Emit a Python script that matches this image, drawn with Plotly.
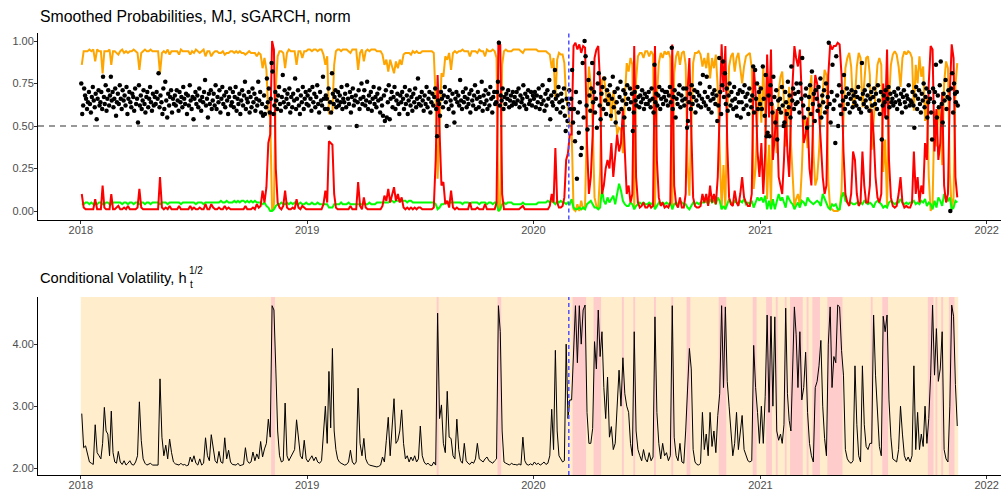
import pandas as pd
import plotly.graph_objects as go

# ---------------------------------------------------------------------------
# Smoothed regime probabilities and conditional volatility, MJ, Jan 2018 - Nov 2021.
# Every row below is one calendar month; values inside a row are evenly spaced
# over that month (Nov 2021 runs to the 15th only).
# ---------------------------------------------------------------------------
months = pd.period_range("2018-01", "2021-11", freq="M")
series_end = pd.Timestamp("2021-11-16")
event_date = "2020-02-27"

# regime 1 (orange)
p_regime1 = [
    [0.86,0.94,0.94,0.94,0.95,0.94,0.95,0.88,0.95,0.94],
    [0.94,0.81,0.94,0.94,0.94,0.95,0.86,0.94,0.94,0.93],
    [0.92,0.94,0.95,0.93,0.94,0.93,0.94,0.94,0.95,0.94],
    [0.93,0.83,0.93,0.94,0.95,0.94,0.94,0.95,0.94,0.94],
    [0.94,0.94,0.81,0.93,0.94,0.93,0.95,0.92,0.94,0.94],
    [0.94,0.94,0.92,0.95,0.94,0.94,0.94,0.94,0.92,0.94],
    [0.93,0.95,0.94,0.93,0.94,0.95,0.91,0.94,0.94,0.91],
    [0.93,0.94,0.94,0.93,0.93,0.94,0.92,0.93,0.93,0.94],
    [0.94,0.93,0.94,0.93,0.94,0.93,0.93,0.92,0.93,0.94],
    [0.93,0.93,0.93,0.91,0.93,0.92,0.84,0.90,0.83,0.58],
    [0.55,0.00,0.04,0.72,0.91,0.94,0.94,0.93,0.84,0.93],
    [0.95,0.94,0.94,0.94,0.86,0.94,0.94,0.90,0.94,0.94],
    [0.95,0.95,0.94,0.95,0.95,0.94,0.95,0.95,0.92,0.86],
    [0.91,0.57,0.58,0.59,0.86,0.94,0.95,0.95,0.94,0.95],
    [0.95,0.95,0.94,0.93,0.95,0.95,0.95,0.83,0.93,0.95],
    [0.88,0.94,0.95,0.94,0.95,0.95,0.95,0.94,0.94,0.94],
    [0.92,0.86,0.89,0.82,0.89,0.84,0.81,0.88,0.84,0.89],
    [0.86,0.92,0.93,0.93,0.93,0.92,0.94,0.93,0.94,0.93],
    [0.93,0.94,0.94,0.94,0.94,0.94,0.94,0.93,0.66,0.19],
    [0.53,0.81,0.79,0.91,0.89,0.93,0.83,0.93,0.94,0.93],
    [0.94,0.94,0.95,0.94,0.94,0.94,0.91,0.94,0.94,0.94],
    [0.93,0.95,0.94,0.94,0.91,0.95,0.94,0.94,0.95,0.94],
    [0.90,0.00,0.01,0.86,0.94,0.95,0.94,0.94,0.94,0.95],
    [0.95,0.95,0.95,0.94,0.93,0.95,0.95,0.95,0.95,0.95],
    [0.95,0.95,0.94,0.94,0.94,0.94,0.94,0.93,0.92,0.84],
    [0.90,0.65,0.89,0.93,0.92,0.92,0.87,0.66,0.61,0.51],
    [0.48,0.01,0.00,0.04,0.00,0.06,0.01,0.03,0.56,0.85],
    [0.74,0.51,0.08,0.03,0.02,0.23,0.77,0.79,0.71,0.62],
    [0.70,0.53,0.71,0.61,0.45,0.49,0.48,0.34,0.66,0.87],
    [0.82,0.90,0.86,0.02,0.77,0.91,0.93,0.93,0.90,0.94],
    [0.94,0.91,0.94,0.92,0.02,0.67,0.87,0.93,0.90,0.94],
    [0.92,0.94,0.90,0.01,0.81,0.91,0.94,0.86,0.93,0.94],
    [0.86,0.28,0.09,0.57,0.87,0.93,0.93,0.94,0.92,0.85],
    [0.90,0.84,0.93,0.78,0.90,0.84,0.92,0.72,0.34,0.01],
    [0.27,0.02,0.56,0.85,0.91,0.93,0.82,0.90,0.93,0.84],
    [0.75,0.85,0.91,0.92,0.93,0.84,0.13,0.25,0.57,0.74],
    [0.52,0.85,0.56,0.07,0.39,0.04,0.63,0.54,0.34,0.70],
    [0.79,0.82,0.65,0.38,0.56,0.73,0.40,0.16,0.02,0.07],
    [0.10,0.03,0.24,0.55,0.52,0.37,0.69,0.80,0.36,0.15],
    [0.19,0.35,0.57,0.70,0.83,0.80,0.18,0.01,0.01,0.00],
    [0.00,0.00,0.01,0.12,0.54,0.84,0.90,0.93,0.85,0.61],
    [0.66,0.85,0.93,0.90,0.61,0.79,0.90,0.91,0.80,0.36],
    [0.53,0.75,0.86,0.90,0.86,0.23,0.42,0.03,0.65,0.86],
    [0.92,0.94,0.92,0.85,0.73,0.90,0.94,0.92,0.94,0.93],
    [0.90,0.59,0.86,0.75,0.91,0.79,0.85,0.53,0.67,0.20],
    [0.00,0.04,0.59,0.38,0.62,0.54,0.27,0.75,0.88,0.84],
    [0.22,0.01,0.08,0.74,0.87],
]

# regime 2 (green)
p_regime2 = [
    [0.04,0.04,0.05,0.05,0.04,0.05,0.04,0.05,0.04,0.05],
    [0.05,0.04,0.04,0.05,0.05,0.04,0.04,0.05,0.05,0.05],
    [0.05,0.05,0.04,0.05,0.05,0.04,0.05,0.05,0.04,0.05],
    [0.05,0.04,0.05,0.05,0.04,0.05,0.05,0.04,0.05,0.05],
    [0.05,0.05,0.04,0.05,0.05,0.05,0.04,0.05,0.05,0.05],
    [0.05,0.05,0.05,0.04,0.05,0.05,0.05,0.05,0.05,0.05],
    [0.05,0.04,0.05,0.05,0.05,0.04,0.05,0.05,0.05,0.05],
    [0.05,0.05,0.05,0.05,0.06,0.05,0.05,0.06,0.05,0.05],
    [0.05,0.06,0.05,0.06,0.05,0.06,0.06,0.05,0.06,0.05],
    [0.06,0.05,0.06,0.05,0.05,0.05,0.04,0.05,0.03,0.02],
    [0.00,0.00,0.01,0.03,0.04,0.04,0.05,0.04,0.04,0.05],
    [0.04,0.05,0.04,0.05,0.04,0.04,0.05,0.04,0.04,0.05],
    [0.04,0.04,0.05,0.04,0.04,0.05,0.04,0.04,0.04,0.04],
    [0.04,0.02,0.02,0.02,0.04,0.04,0.04,0.04,0.05,0.04],
    [0.04,0.04,0.05,0.04,0.04,0.04,0.04,0.04,0.04,0.04],
    [0.04,0.04,0.04,0.05,0.04,0.04,0.04,0.05,0.05,0.05],
    [0.05,0.05,0.05,0.05,0.06,0.06,0.05,0.06,0.06,0.06],
    [0.06,0.06,0.06,0.05,0.06,0.06,0.05,0.05,0.05,0.05],
    [0.05,0.05,0.05,0.05,0.05,0.05,0.05,0.05,0.04,0.01],
    [0.02,0.04,0.04,0.05,0.05,0.05,0.05,0.05,0.05,0.05],
    [0.05,0.05,0.04,0.05,0.05,0.05,0.04,0.05,0.05,0.05],
    [0.05,0.04,0.05,0.05,0.05,0.04,0.05,0.05,0.04,0.05],
    [0.05,0.00,0.01,0.04,0.05,0.04,0.05,0.05,0.05,0.04],
    [0.04,0.04,0.04,0.04,0.05,0.04,0.04,0.04,0.04,0.04],
    [0.04,0.04,0.05,0.05,0.05,0.05,0.05,0.06,0.05,0.06],
    [0.05,0.04,0.06,0.05,0.06,0.05,0.05,0.04,0.05,0.04],
    [0.07,0.02,0.01,0.01,0.02,0.01,0.02,0.01,0.04,0.05],
    [0.06,0.04,0.02,0.02,0.01,0.02,0.13,0.06,0.04,0.08],
    [0.05,0.07,0.09,0.04,0.10,0.16,0.12,0.06,0.04,0.03],
    [0.03,0.05,0.04,0.01,0.03,0.04,0.05,0.04,0.05,0.04],
    [0.04,0.05,0.04,0.05,0.01,0.03,0.05,0.04,0.05,0.04],
    [0.05,0.04,0.05,0.01,0.04,0.05,0.04,0.06,0.05,0.04],
    [0.04,0.02,0.01,0.03,0.05,0.04,0.05,0.04,0.05,0.05],
    [0.05,0.06,0.04,0.07,0.05,0.06,0.04,0.08,0.06,0.01],
    [0.03,0.01,0.04,0.07,0.05,0.04,0.06,0.05,0.04,0.06],
    [0.05,0.07,0.04,0.05,0.04,0.06,0.02,0.05,0.08,0.06],
    [0.08,0.05,0.09,0.01,0.06,0.01,0.07,0.01,0.06,0.10],
    [0.06,0.08,0.05,0.02,0.09,0.07,0.05,0.04,0.01,0.03],
    [0.05,0.02,0.06,0.05,0.03,0.08,0.06,0.05,0.04,0.05],
    [0.06,0.05,0.03,0.10,0.07,0.05,0.02,0.01,0.04,0.03],
    [0.04,0.01,0.01,0.08,0.11,0.06,0.05,0.04,0.05,0.04],
    [0.04,0.05,0.04,0.05,0.04,0.06,0.05,0.04,0.05,0.04],
    [0.02,0.05,0.06,0.05,0.04,0.02,0.03,0.02,0.05,0.06],
    [0.05,0.04,0.05,0.05,0.07,0.05,0.04,0.05,0.04,0.05],
    [0.05,0.06,0.04,0.05,0.04,0.06,0.05,0.07,0.03,0.05],
    [0.04,0.01,0.06,0.02,0.08,0.06,0.03,0.10,0.07,0.06],
    [0.08,0.01,0.02,0.06,0.05],
]

# regime 3 (red)
p_regime3 = [
    [0.10,0.02,0.01,0.01,0.01,0.01,0.01,0.07,0.01,0.01],
    [0.01,0.15,0.02,0.01,0.01,0.01,0.10,0.01,0.01,0.02],
    [0.03,0.01,0.01,0.02,0.01,0.03,0.01,0.01,0.01,0.01],
    [0.02,0.13,0.02,0.01,0.01,0.01,0.01,0.01,0.01,0.01],
    [0.01,0.01,0.20,0.02,0.01,0.02,0.01,0.03,0.01,0.01],
    [0.01,0.01,0.03,0.01,0.01,0.01,0.01,0.01,0.03,0.01],
    [0.02,0.01,0.01,0.02,0.01,0.01,0.04,0.01,0.01,0.04],
    [0.02,0.01,0.01,0.02,0.01,0.01,0.03,0.01,0.02,0.01],
    [0.01,0.01,0.01,0.01,0.01,0.01,0.01,0.03,0.01,0.01],
    [0.01,0.02,0.01,0.04,0.02,0.03,0.12,0.05,0.14,0.40],
    [0.45,1.00,0.95,0.25,0.05,0.02,0.01,0.03,0.12,0.02],
    [0.01,0.01,0.02,0.01,0.07,0.02,0.01,0.03,0.02,0.01],
    [0.01,0.01,0.01,0.01,0.01,0.01,0.01,0.01,0.04,0.12],
    [0.05,0.41,0.40,0.39,0.10,0.02,0.01,0.01,0.01,0.01],
    [0.01,0.01,0.01,0.03,0.01,0.01,0.01,0.17,0.03,0.01],
    [0.08,0.02,0.01,0.01,0.01,0.01,0.01,0.01,0.01,0.01],
    [0.03,0.09,0.06,0.13,0.05,0.10,0.14,0.06,0.10,0.05],
    [0.08,0.02,0.01,0.02,0.01,0.02,0.01,0.02,0.01,0.02],
    [0.02,0.01,0.01,0.01,0.01,0.01,0.01,0.02,0.30,0.80],
    [0.45,0.15,0.17,0.04,0.06,0.02,0.12,0.02,0.01,0.02],
    [0.01,0.01,0.01,0.01,0.01,0.01,0.05,0.01,0.01,0.01],
    [0.02,0.01,0.01,0.01,0.04,0.01,0.01,0.01,0.01,0.01],
    [0.05,1.00,0.98,0.10,0.01,0.01,0.01,0.01,0.01,0.01],
    [0.01,0.01,0.01,0.02,0.03,0.01,0.01,0.01,0.01,0.01],
    [0.01,0.01,0.01,0.01,0.01,0.01,0.01,0.01,0.03,0.10],
    [0.05,0.37,0.05,0.02,0.02,0.03,0.08,0.30,0.34,0.45],
    [0.45,0.97,0.99,0.95,0.98,0.93,0.97,0.96,0.40,0.10],
    [0.20,0.45,0.90,0.95,0.97,0.75,0.10,0.15,0.25,0.30],
    [0.25,0.40,0.20,0.35,0.45,0.35,0.40,0.60,0.30,0.10],
    [0.15,0.05,0.10,0.97,0.20,0.05,0.02,0.03,0.05,0.02],
    [0.02,0.04,0.02,0.03,0.97,0.30,0.08,0.03,0.05,0.02],
    [0.03,0.02,0.05,0.98,0.15,0.04,0.02,0.08,0.02,0.02],
    [0.10,0.70,0.90,0.40,0.08,0.03,0.02,0.02,0.03,0.10],
    [0.05,0.10,0.03,0.15,0.05,0.10,0.04,0.20,0.60,0.98],
    [0.70,0.97,0.40,0.08,0.04,0.03,0.12,0.05,0.03,0.10],
    [0.20,0.08,0.05,0.03,0.03,0.10,0.85,0.70,0.35,0.20],
    [0.40,0.10,0.35,0.92,0.55,0.95,0.30,0.45,0.60,0.20],
    [0.15,0.10,0.30,0.60,0.35,0.20,0.55,0.80,0.97,0.90],
    [0.85,0.95,0.70,0.40,0.45,0.55,0.25,0.15,0.60,0.80],
    [0.75,0.60,0.40,0.20,0.10,0.15,0.80,0.98,0.95,0.97],
    [0.97,0.99,0.98,0.80,0.35,0.10,0.05,0.03,0.10,0.35],
    [0.30,0.10,0.03,0.05,0.35,0.15,0.05,0.05,0.15,0.60],
    [0.45,0.20,0.08,0.05,0.10,0.75,0.55,0.95,0.30,0.08],
    [0.03,0.02,0.03,0.10,0.20,0.05,0.02,0.03,0.02,0.02],
    [0.05,0.35,0.10,0.20,0.05,0.15,0.10,0.40,0.30,0.75],
    [0.97,0.95,0.35,0.60,0.30,0.40,0.70,0.15,0.05,0.10],
    [0.70,0.98,0.90,0.20,0.08],
]

# black points (about one per trading day)
points = [
    [0.75,0.57,0.62,0.72,0.68,0.66,0.60,0.64,0.70,0.63,0.58,0.67,0.73,0.65,0.61,0.69,0.54,0.66,0.71,0.62],
    [0.64,0.70,0.60,0.79,0.67,0.63,0.74,0.59,0.66,0.71,0.62,0.68,0.79,0.65,0.70,0.61,0.66,0.72,0.56,0.64],
    [0.69,0.63,0.74,0.66,0.60,0.71,0.65,0.68,0.62,0.73,0.57,0.66,0.70,0.64,0.61,0.69,0.67,0.59,0.72,0.63],
    [0.66,0.52,0.74,0.62,0.68,0.60,0.65,0.71,0.63,0.58,0.67,0.70,0.61,0.66,0.73,0.64,0.59,0.69,0.62,0.67],
    [0.63,0.70,0.66,0.81,0.61,0.68,0.64,0.57,0.72,0.60,0.76,0.65,0.55,0.69,0.62,0.67,0.71,0.58,0.66,0.63],
    [0.68,0.62,0.71,0.65,0.59,0.70,0.64,0.67,0.61,0.73,0.66,0.63,0.69,0.57,0.68,0.62,0.74,0.65,0.60,0.67],
    [0.54,0.66,0.70,0.63,0.68,0.61,0.72,0.65,0.59,0.67,0.64,0.70,0.77,0.62,0.66,0.55,0.69,0.63,0.71,0.60],
    [0.65,0.69,0.62,0.74,0.60,0.67,0.64,0.71,0.58,0.66,0.73,0.63,0.68,0.61,0.70,0.65,0.57,0.67,0.72,0.62],
    [0.64,0.70,0.61,0.67,0.73,0.59,0.66,0.63,0.69,0.57,0.65,0.71,0.62,0.68,0.76,0.60,0.66,0.64,0.70,0.58],
    [0.67,0.61,0.72,0.64,0.69,0.59,0.66,0.62,0.76,0.65,0.70,0.58,0.63,0.56,0.68,0.57,0.61,0.78,0.64,0.72],
    [0.58,0.66,0.87,0.82,0.57,0.62,0.70,0.65,0.60,0.68,0.73,0.63,0.59,0.67,0.80,0.64,0.71,0.61,0.66,0.69],
    [0.63,0.72,0.58,0.67,0.61,0.69,0.65,0.78,0.60,0.66,0.71,0.62,0.57,0.68,0.64,0.73,0.60,0.66,0.70,0.63],
    [0.68,0.62,0.71,0.66,0.59,0.73,0.64,0.69,0.61,0.67,0.74,0.63,0.58,0.70,0.65,0.62,0.79,0.66,0.60,0.68],
    [0.66,0.60,0.72,0.49,0.64,0.58,0.81,0.69,0.63,0.67,0.71,0.61,0.65,0.70,0.62,0.68,0.64,0.73,0.60,0.66],
    [0.64,0.69,0.61,0.74,0.66,0.63,0.70,0.58,0.67,0.72,0.62,0.65,0.68,0.50,0.64,0.71,0.60,0.66,0.75,0.63],
    [0.67,0.71,0.62,0.65,0.76,0.60,0.68,0.64,0.70,0.59,0.66,0.73,0.63,0.67,0.61,0.69,0.65,0.72,0.58,0.66],
    [0.62,0.56,0.68,0.53,0.71,0.55,0.64,0.74,0.54,0.66,0.70,0.61,0.67,0.73,0.60,0.65,0.69,0.63,0.57,0.68],
    [0.64,0.70,0.66,0.60,0.73,0.63,0.68,0.57,0.65,0.71,0.62,0.67,0.59,0.69,0.64,0.72,0.61,0.66,0.78,0.63],
    [0.67,0.62,0.70,0.65,0.59,0.68,0.63,0.73,0.61,0.66,0.70,0.58,0.64,0.69,0.62,0.67,0.72,0.60,0.44,0.65],
    [0.63,0.56,0.70,0.66,0.61,0.68,0.73,0.64,0.50,0.67,0.60,0.71,0.65,0.62,0.69,0.58,0.52,0.66,0.70,0.64],
    [0.68,0.62,0.77,0.65,0.60,0.70,0.64,0.67,0.72,0.61,0.66,0.63,0.69,0.58,0.71,0.65,0.62,0.68,0.74,0.60],
    [0.66,0.70,0.61,0.67,0.64,0.76,0.59,0.68,0.63,0.71,0.65,0.60,0.69,0.62,0.73,0.66,0.58,0.67,0.70,0.63],
    [0.64,0.70,0.76,0.99,0.62,0.68,0.65,0.72,0.60,0.67,0.63,0.69,0.66,0.71,0.61,0.65,0.68,0.62,0.70,0.64],
    [0.67,0.63,0.70,0.65,0.72,0.61,0.68,0.64,0.66,0.74,0.62,0.69,0.60,0.67,0.71,0.63,0.65,0.70,0.62,0.68],
    [0.66,0.70,0.61,0.68,0.64,0.72,0.60,0.67,0.63,0.74,0.65,0.59,0.69,0.62,0.71,0.66,0.77,0.54,0.68,0.64],
    [0.62,0.70,0.83,0.66,0.60,0.68,0.73,0.64,0.58,0.69,0.65,0.61,0.72,0.56,0.47,0.66,0.53,0.63,0.71,0.60],
    [0.66,0.83,0.52,0.60,0.41,0.70,0.19,0.58,0.46,0.64,0.33,0.37,0.87,0.55,1.00,0.91,0.62,0.48,0.77,0.68],
    [0.59,0.72,0.87,0.64,0.70,0.58,0.66,0.49,0.75,0.81,0.62,0.54,0.69,0.73,0.60,0.78,0.65,0.57,0.71,0.63],
    [0.68,0.74,0.56,0.66,0.79,0.61,0.70,0.52,0.64,0.72,0.58,0.67,0.76,0.60,0.65,0.71,0.55,0.69,0.63,0.74],
    [0.66,0.60,0.72,0.64,0.69,0.47,0.58,0.70,0.65,0.62,0.73,0.67,0.61,0.68,0.64,0.71,0.66,0.60,0.69,0.63],
    [0.67,0.63,0.70,0.65,0.61,0.72,0.66,0.58,0.86,0.64,0.69,0.62,0.68,0.73,0.60,0.66,0.71,0.63,0.67,0.70],
    [0.65,0.70,0.62,0.68,0.73,0.64,0.96,0.60,0.67,0.71,0.55,0.66,0.63,0.69,0.74,0.61,0.68,0.65,0.72,0.62],
    [0.66,0.72,0.49,0.53,0.64,0.69,0.60,0.74,0.63,0.67,0.71,0.58,0.65,0.70,0.62,0.68,0.75,0.61,0.66,0.80],
    [0.64,0.70,0.62,0.79,0.67,0.60,0.73,0.65,0.58,0.69,0.66,0.71,0.63,0.68,0.53,0.62,0.90,0.70,0.57,0.74],
    [0.88,0.67,0.81,0.63,0.72,0.59,0.68,0.75,0.62,0.70,0.65,0.60,0.73,0.66,0.61,0.56,0.69,0.64,0.71,0.55],
    [0.64,0.70,0.60,0.74,0.67,0.62,0.69,0.57,0.72,0.65,0.61,0.68,0.85,0.58,0.83,0.66,0.75,0.60,0.70,0.63],
    [0.72,0.60,0.85,0.66,0.56,0.80,0.44,0.46,0.68,0.44,0.74,0.63,0.58,0.79,0.67,0.52,0.71,0.42,0.65,0.60],
    [0.66,0.58,0.73,0.62,0.50,0.52,0.70,0.64,0.57,0.76,0.61,0.68,0.55,0.85,0.65,0.72,0.60,0.69,0.63,0.75],
    [0.64,0.70,0.58,0.75,0.66,0.90,0.62,0.55,0.68,0.72,0.49,0.60,0.67,0.74,0.57,0.82,0.63,0.69,0.53,0.71],
    [0.66,0.59,0.73,0.62,0.78,0.55,0.68,0.64,0.71,0.58,0.75,0.61,0.67,0.99,0.63,0.52,0.70,0.86,0.60,0.65],
    [0.40,0.91,0.68,0.50,0.74,0.62,0.57,0.70,0.65,0.80,0.60,0.67,0.72,0.63,0.69,0.58,0.66,0.71,0.61,0.68],
    [0.64,0.70,0.62,0.67,0.73,0.60,0.66,0.58,0.87,0.69,0.63,0.71,0.65,0.61,0.68,0.74,0.59,0.66,0.70,0.62],
    [0.67,0.72,0.63,0.69,0.60,0.74,0.65,0.57,0.70,0.42,0.62,0.68,0.64,0.71,0.55,0.66,0.73,0.61,0.69,0.64],
    [0.66,0.62,0.70,0.64,0.68,0.60,0.72,0.65,0.63,0.69,0.58,0.67,0.71,0.64,0.61,0.68,0.66,0.74,0.62,0.65],
    [0.64,0.70,0.62,0.49,0.68,0.73,0.60,0.66,0.71,0.63,0.58,0.69,0.65,0.75,0.61,0.67,0.72,0.55,0.64,0.70],
    [0.66,0.58,0.42,0.72,0.64,0.70,0.86,0.55,0.68,0.61,0.74,0.88,0.63,0.52,0.69,0.65,0.77,0.60,0.67,0.71],
    [0.66,0.00,0.72,0.81,0.58,0.75,0.69,0.64,0.70,0.62],
]

# conditional volatility h_t^(1/2)
volatility = [
    [2.88,2.33,2.36,2.20,2.10,2.08,2.06,2.70,2.25,2.20],
    [2.15,2.40,2.98,2.60,2.55,2.20,2.92,2.25,2.10,2.08],
    [2.27,2.10,2.06,2.12,2.05,2.08,2.12,2.06,2.05,2.10],
    [2.20,3.07,2.45,2.15,2.08,2.05,2.06,2.08,2.05,2.05],
    [2.05,2.05,3.44,2.50,2.20,2.37,2.15,2.47,2.25,2.10],
    [2.07,2.06,2.05,2.08,2.05,2.06,2.04,2.05,2.18,2.10],
    [2.20,2.08,2.05,2.15,2.05,2.08,2.49,2.20,2.12,2.54],
    [2.30,2.12,2.08,2.27,2.10,2.08,2.49,2.15,2.29,2.10],
    [2.06,2.05,2.05,2.08,2.04,2.05,2.06,2.33,2.12,2.08],
    [2.10,2.26,2.12,2.23,2.15,2.43,2.18,2.31,2.40,2.79],
    [2.50,4.62,4.55,3.60,2.60,2.20,2.10,2.12,3.05,2.20],
    [2.12,2.18,2.25,2.30,2.78,2.50,2.20,2.15,2.45,2.15],
    [2.10,2.15,2.20,2.12,2.18,2.10,2.08,2.12,2.60,3.00],
    [2.40,3.56,2.65,3.93,2.60,2.30,2.15,2.10,2.08,2.06],
    [2.05,2.06,2.10,2.29,2.10,2.06,2.10,3.29,2.40,2.20],
    [2.48,2.15,2.08,2.05,2.04,2.03,2.03,2.02,2.03,2.05],
    [2.18,2.10,2.45,2.82,2.20,2.70,3.12,2.40,2.45,2.60],
    [2.94,2.40,2.15,2.20,2.10,2.18,2.12,2.20,2.10,2.15],
    [2.68,2.20,2.10,2.06,2.08,2.05,2.04,2.10,2.05,4.50],
    [2.80,3.02,2.40,2.25,3.24,2.50,2.48,2.20,2.15,2.79],
    [2.30,2.12,2.08,2.40,2.12,2.08,2.06,2.10,2.08,2.15],
    [2.40,2.15,2.12,2.10,2.15,2.18,2.12,2.10,2.08,2.12],
    [2.15,4.62,4.20,2.60,2.10,2.08,2.06,2.05,2.08,2.06],
    [2.06,2.05,2.07,2.05,2.50,2.12,2.06,2.05,2.07,2.05],
    [2.10,2.06,2.08,2.05,2.07,2.10,2.06,2.08,2.20,2.95],
    [2.30,3.90,2.60,2.20,2.15,2.10,2.12,4.00,2.80,3.10],
    [3.10,3.90,4.62,3.70,4.62,4.00,4.55,4.63,2.90,2.40],
    [2.40,2.64,4.04,3.60,4.55,3.80,4.20,3.30,2.80,3.47],
    [2.50,2.67,2.30,2.40,2.91,3.58,3.00,3.78,3.20,3.00],
    [2.90,2.40,2.20,4.20,2.60,2.30,2.20,2.12,2.30,2.15],
    [2.10,2.25,2.12,2.18,4.44,2.90,2.40,2.15,2.40,2.20],
    [2.25,2.12,2.20,4.62,2.50,2.20,2.12,2.40,2.10,2.08],
    [2.60,3.37,3.93,3.60,2.30,2.10,2.06,2.05,2.08,2.90],
    [2.30,2.55,2.20,2.90,2.35,2.60,2.25,2.85,3.20,4.62],
    [3.30,4.60,3.40,3.00,2.60,2.20,2.40,2.90,2.30,2.60],
    [2.85,2.30,2.20,2.12,2.10,2.12,3.98,3.30,2.90,2.40],
    [3.00,2.40,3.16,4.47,2.90,4.45,3.00,4.44,2.60,2.45],
    [2.55,2.40,2.70,4.58,3.20,2.77,2.60,3.50,4.60,4.16],
    [3.30,4.20,3.10,3.30,3.87,2.90,2.40,2.20,2.10,3.30],
    [3.40,3.65,4.06,3.00,2.48,2.20,4.00,4.60,3.30,3.80],
    [3.70,4.63,4.60,3.90,3.50,2.30,2.15,2.10,2.08,2.12],
    [3.65,2.70,2.20,2.10,3.65,2.70,2.35,2.30,2.40,2.40],
    [4.47,3.50,2.80,2.35,2.20,4.45,4.20,4.47,3.10,2.50],
    [2.15,2.12,2.10,2.30,3.00,2.55,2.20,2.12,2.18,2.10],
    [2.20,3.65,2.30,2.90,2.30,2.55,2.35,3.00,2.40,2.80],
    [3.50,4.63,3.50,4.25,3.40,3.60,4.20,2.30,2.15,2.10],
    [3.00,4.63,4.45,3.35,2.68],
]

year_ticks = ["2018", "2019", "2020", "2021", "2022"]
prob_ticks = [0.0, 0.25, 0.50, 0.75, 1.0]
vol_ticks = [2.0, 3.0, 4.0]


def month_span(i):
    start = months[i].start_time
    end = months[i + 1].start_time if i + 1 < len(months) else series_end
    return start, end


def place(rows):
    """Spread each month's values evenly over that month."""
    xs, ys, cells = [], [], []
    for i, row in enumerate(rows):
        start, end = month_span(i)
        span = end - start
        n = len(row)
        for k, v in enumerate(row):
            xs.append(start + span * ((k + 0.5) / n))
            ys.append(v)
            cells.append((start + span * (k / n), start + span * ((k + 1) / n)))
    return xs, ys, cells


x1, y1, cells = place(p_regime1)
x2, y2, _ = place(p_regime2)
x3, y3, _ = place(p_regime3)
xp, yp, _ = place(points)
xv, yv, _ = place(volatility)

C_ORANGE, C_GREEN, C_RED = "#FFA500", "#00FF00", "#FF0000"
SHADE = ["#FFEDCC", "#CCFFCC", "#FFCCCC"]  # 20 % tints of the regime colours

fig = go.Figure()

# ---- top panel: smoothed probabilities ----
fig.add_trace(go.Scatter(x=x1, y=y1, mode="lines", line=dict(color=C_ORANGE, width=2),
                         xaxis="x", yaxis="y", hoverinfo="skip"))
fig.add_trace(go.Scatter(x=x2, y=y2, mode="lines", line=dict(color=C_GREEN, width=2),
                         xaxis="x", yaxis="y", hoverinfo="skip"))
fig.add_trace(go.Scatter(x=x3, y=y3, mode="lines", line=dict(color=C_RED, width=2),
                         xaxis="x", yaxis="y", hoverinfo="skip"))
fig.add_trace(go.Scatter(x=xp, y=yp, mode="markers", marker=dict(color="black", size=4.5),
                         xaxis="x", yaxis="y", hoverinfo="skip"))

# ---- bottom panel: conditional volatility ----
fig.add_trace(go.Scatter(x=xv, y=yv, mode="lines", line=dict(color="black", width=1),
                         xaxis="x2", yaxis="y2", hoverinfo="skip"))

# background shading by most likely regime
shapes = [dict(type="rect", xref="x2", yref="y2 domain", x0=cells[0][0], x1=cells[-1][1],
               y0=0, y1=1, fillcolor=SHADE[0], line_width=0, layer="below")]
regime = []
for a, b, c in zip(y1, y2, y3):
    vals = [a, b, c]
    regime.append(vals.index(max(vals)))
i = 0
while i < len(regime):
    j = i
    while j + 1 < len(regime) and regime[j + 1] == regime[i]:
        j += 1
    if regime[i] != 0:
        shapes.append(dict(type="rect", xref="x2", yref="y2 domain",
                           x0=cells[i][0], x1=cells[j][1], y0=0, y1=1,
                           fillcolor=SHADE[regime[i]], line_width=0, layer="below"))
    i = j + 1

# reference lines
shapes.append(dict(type="line", xref="x domain", yref="y", x0=0, x1=1, y0=0.5, y1=0.5,
                   line=dict(color="#333333", width=1.1, dash="6px,5px"), layer="above"))
for xr, yr in (("x", "y domain"), ("x2", "y2 domain")):
    shapes.append(dict(type="line", xref=xr, yref=yr, x0=event_date, x1=event_date, y0=0, y1=1,
                       line=dict(color="#5050FF", width=1.5, dash="4px,3px"), layer="above"))

W, H = 1001, 493
FONT = "Liberation Sans, Arial, sans-serif"
axis_common = dict(showline=True, linecolor="black", linewidth=1, ticks="outside", ticklen=3,
                   tickcolor="#333333", tickwidth=1, showgrid=False, zeroline=False,
                   tickfont=dict(family=FONT, size=11, color="#4D4D4D"))
x_range = ["2017-10-24", "2022-01-24"]
x_ticks = [f"{y}-01-01" for y in year_ticks]

fig.update_layout(
    width=W, height=H, margin=dict(l=0, r=0, t=0, b=0),
    paper_bgcolor="white", plot_bgcolor="rgba(0,0,0,0)", showlegend=False,
    font=dict(family=FONT),
    xaxis=dict(domain=[38 / W, 1.0], range=x_range, anchor="y", tickvals=x_ticks,
               ticktext=year_ticks, ticklabelstandoff=-3, **axis_common),
    yaxis=dict(domain=[1 - 219.5 / H, 1 - 32.5 / H], range=[-0.05, 1.05], anchor="x",
               tickvals=prob_ticks, ticktext=[f"{v:.2f}" for v in prob_ticks],
               ticklabelstandoff=-2, **axis_common),
    xaxis2=dict(domain=[38 / W, 1.0], range=x_range, anchor="y2", tickvals=x_ticks,
                ticktext=year_ticks, ticklabelstandoff=-3, **axis_common),
    yaxis2=dict(domain=[1 - 475 / H, 1 - 297 / H], range=[1.89, 4.76], anchor="x2",
                tickvals=vol_ticks, ticktext=[f"{v:.2f}" for v in vol_ticks],
                ticklabelstandoff=-2, **axis_common),
    shapes=shapes,
    annotations=[
        dict(text="Smoothed Probabilities, MJ, sGARCH, norm", xref="paper", yref="paper",
             x=38 / W, y=1 - 17 / H, xanchor="left", yanchor="middle", showarrow=False,
             font=dict(family=FONT, size=15.8, color="black")),
        dict(text="Conditional Volatility, h", xref="paper", yref="paper",
             x=38 / W, y=1 - 277.5 / H, xanchor="left", yanchor="middle", showarrow=False,
             font=dict(family=FONT, size=14.7, color="black")),
        dict(text="t", xref="paper", yref="paper",
             x=187.5 / W, y=1 - 284.5 / H, xanchor="left", yanchor="middle", showarrow=False,
             font=dict(family=FONT, size=10, color="black")),
        dict(text="1/2", xref="paper", yref="paper",
             x=187 / W, y=1 - 270.5 / H, xanchor="left", yanchor="middle", showarrow=False,
             font=dict(family=FONT, size=10, color="black")),
    ],
)

fig.write_html("out.html")
